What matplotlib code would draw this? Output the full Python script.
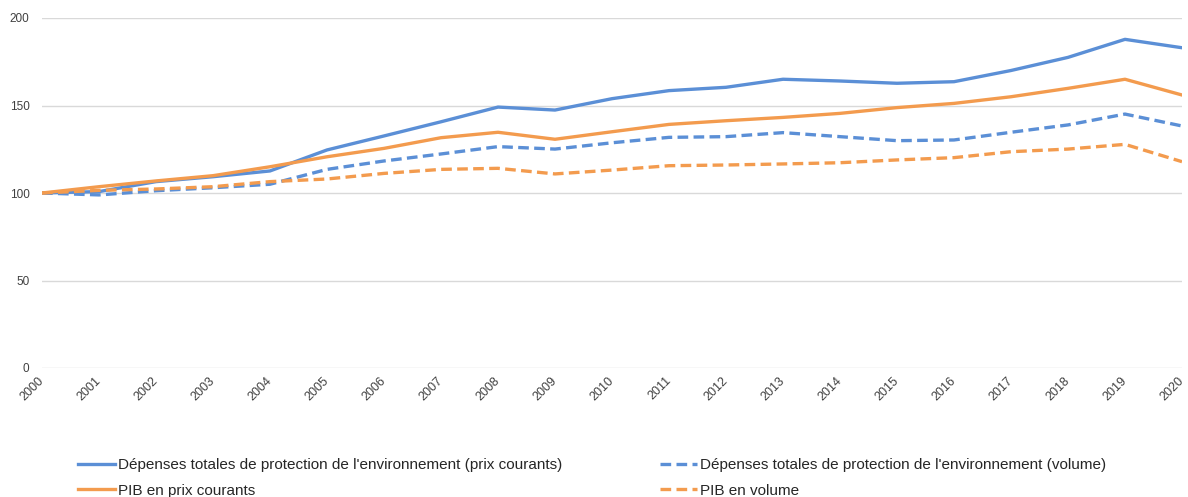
import matplotlib
matplotlib.use("Agg")
import matplotlib.pyplot as plt

years = list(range(2000, 2021))
dep_courants = [100, 100.8, 106.5, 109.3, 112.6, 124.6, 132.6, 140.7, 149.1, 147.4, 153.9,
                158.5, 160.4, 165.0, 164.0, 162.7, 163.6, 170.0, 177.5, 187.8, 183.0]
dep_volume = [100, 98.9, 101.3, 103.0, 105.0, 113.5, 118.3, 122.3, 126.5, 125.1, 128.7,
              131.8, 132.2, 134.5, 132.2, 129.9, 130.3, 134.7, 138.9, 145.1, 138.3]
pib_courants = [100, 103.6, 106.9, 109.9, 115.0, 120.7, 125.5, 131.6, 134.7, 130.7, 135.0,
                139.2, 141.3, 143.2, 145.5, 148.8, 151.2, 155.0, 159.8, 165.0, 156.0]
pib_volume = [100, 101.5, 102.3, 103.6, 106.5, 108.0, 111.2, 113.5, 114.1, 110.9, 113.1,
              115.6, 116.0, 116.6, 117.3, 118.9, 120.2, 123.6, 125.1, 127.8, 117.9]
labels = ["Dépenses totales de protection de l'environnement (prix courants)",
          "Dépenses totales de protection de l'environnement (volume)",
          "PIB en prix courants",
          "PIB en volume"]
yticks = [0, 50, 100, 150, 200]

plt.rcParams['font.family'] = ['Liberation Sans', 'DejaVu Sans']
blue = '#5B8FD6'
orange = '#F39B4E'

fig = plt.figure(figsize=(11.88, 4.97), dpi=100)
ax = fig.add_axes([42/1188, 1-368/497, (1182-42)/1188, (368-18)/497])

lw = 2.4
dash = (3.2, 1.6)
l1, = ax.plot(years, dep_courants, color=blue, lw=lw, label=labels[0])
l2, = ax.plot(years, dep_volume, color=blue, lw=lw, ls=(0, dash), label=labels[1])
l3, = ax.plot(years, pib_courants, color=orange, lw=lw, label=labels[2])
l4, = ax.plot(years, pib_volume, color=orange, lw=lw, ls=(0, dash), label=labels[3])

ax.set_xlim(2000, 2020)
ax.set_ylim(0, 200)
ax.set_yticks(yticks)
ax.set_xticks(years)
ax.set_xticklabels([str(y) for y in years], rotation=45, ha='right', va='center',
                   rotation_mode='anchor', fontsize=9, color='#404040')
ax.tick_params(axis='y', labelsize=8.5, length=0, pad=9, labelcolor='#404040')
ax.tick_params(axis='x', length=0, pad=8)
ax.grid(axis='y', color='#D9D9D9', lw=1)
ax.set_axisbelow(True)
for s in ax.spines.values():
    s.set_visible(False)

fig.legend(handles=[l1, l3, l2, l4], labels=[labels[0], labels[2], labels[1], labels[3]],
           ncol=2, loc='upper left', bbox_to_anchor=(72/1188, 1-452/497), frameon=False,
           fontsize=11, handlelength=2.4, handletextpad=0.2, columnspacing=6.4,
           labelspacing=0.75, borderaxespad=0, labelcolor='#262626')

fig.savefig('out.png', dpi=100)
